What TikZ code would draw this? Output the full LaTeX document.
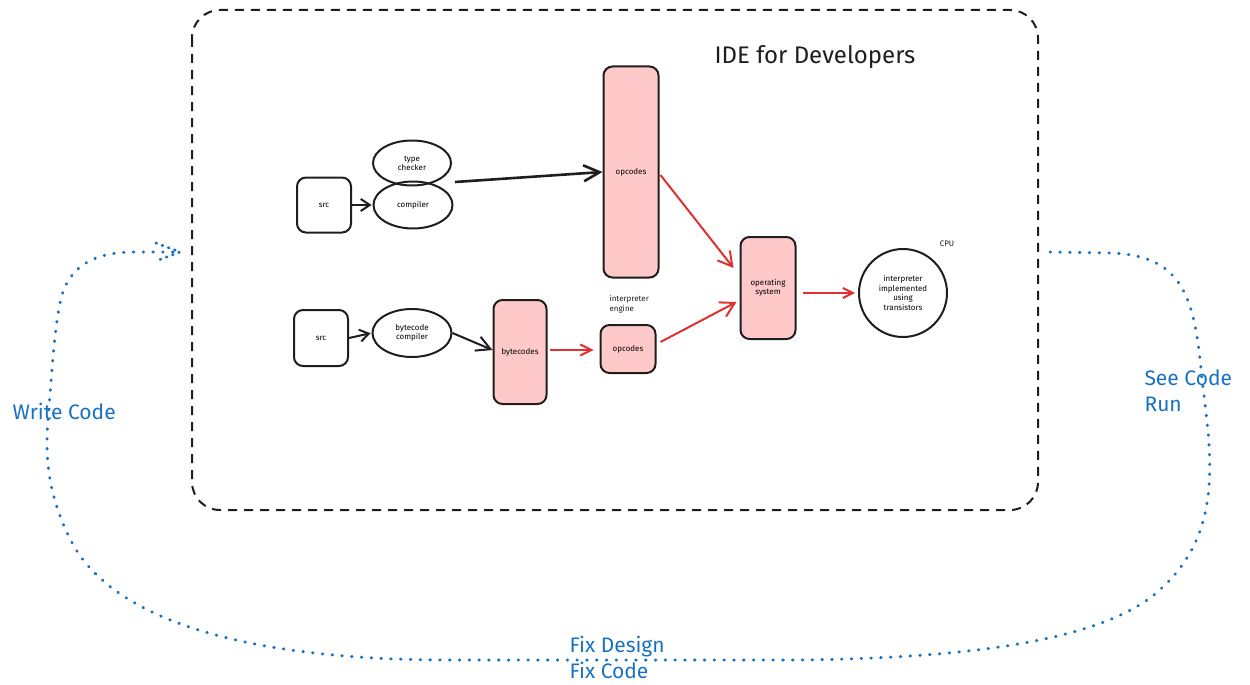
\documentclass[tikz,border=0pt]{standalone}
\usepackage{fontspec}
\setmainfont{Fira Sans}
\usetikzlibrary{arrows.meta,calc,shapes.geometric}
\definecolor{pinkfill}{HTML}{FFC9C9}
\definecolor{redline}{HTML}{E03131}
\definecolor{blueline}{HTML}{1971C2}
\definecolor{inkc}{HTML}{1E1E1E}
\tikzset{
  box/.style={draw=inkc, line width=2pt, rounded corners=9pt, align=center, font=\fontsize{8}{9}\selectfont, inner sep=0pt},
  pinkbox/.style={box, fill=pinkfill},
  oval/.style={draw=inkc, line width=2pt, ellipse, align=center, font=\fontsize{8}{9}\selectfont, inner sep=0pt},
  blackarrow/.style={draw=inkc, line width=2pt, -{Straight Barb[length=9pt,width=12pt]}},
  redarrow/.style={draw=redline, line width=2pt, -{Straight Barb[length=14pt,width=16pt]}},
  smalllabel/.style={font=\fontsize{8}{9.5}\selectfont, align=left, text=inkc},
  bluelabel/.style={font=\fontsize{21}{26}\selectfont, text=blueline, align=left},
  loopline/.style={draw=blueline, line width=3pt, line cap=round, dash pattern=on 0.6pt off 9.2pt},
}
\begin{document}
\begin{tikzpicture}[x=1pt,y=-1pt]
\useasboundingbox (0,0) rectangle (1250,685);
% frame
\draw[inkc, line width=2pt, dash pattern=on 9pt off 7pt, rounded corners=28pt] (192,10) rectangle (1038,510);
\node[font=\fontsize{24}{28}\selectfont, text=inkc] (title) at (815,57) {IDE for Developers};

% upper chain
\node[box, minimum width=54pt, minimum height=55pt] (src1) at (324,205) {src};
\node[oval, minimum width=78pt, minimum height=45pt] (tc) at (412,163) {type\\checker};
\node[oval, minimum width=79pt, minimum height=47pt] (comp) at (413,205) {compiler};
\node[pinkbox, minimum width=55pt, minimum height=211pt] (op1) at (631,172) {opcodes};
\coordinate (tcout) at (455,182);

% lower chain
\node[box, minimum width=54pt, minimum height=56pt] (src2) at (321,338) {src};
\node[oval, minimum width=79pt, minimum height=48pt] (bcc) at (412,333) {bytecode\\compiler};
\node[pinkbox, minimum width=53pt, minimum height=104pt] (bytec) at (520,352) {bytecodes};
\node[pinkbox, minimum width=55pt, minimum height=48pt] (op2) at (628,349) {opcodes};
\node[smalllabel, anchor=north west] (engine) at (606,292) {interpreter\\engine};

% right
\node[pinkbox, minimum width=55pt, minimum height=102pt] (os) at (768,288) {operating\\system};
\node[draw=inkc, line width=2pt, circle, minimum size=88pt, align=center, inner sep=0pt, font=\fontsize{8}{9.5}\selectfont] (cpu) at (903,293) {interpreter\\implemented\\using\\transistors};
\node[smalllabel] (cpul) at (947,244) {CPU};

% connectors
\draw[blackarrow, shorten >=1pt] (src1.east) -- (comp.west);
\draw[draw=inkc, line width=2.6pt, -{Straight Barb[length=16pt,width=16pt]}] (tcout) -- (op1.west);
\draw[blackarrow, shorten >=1pt] (src2.east) -- (bcc.west);
\draw[blackarrow, -{Straight Barb[length=14pt,width=15pt]}] (bcc.east) -- ($(bytec.west)+(0,-2)$);
\draw[redarrow, -{Straight Barb[length=11pt,width=11pt]}] ($(bytec.east)+(2,-2)$) -- ($(op2.west)+(-6,1)$);
\draw[redarrow] ($(op1.east)+(1,3)$) -- ($(os.west)+(-6,-20)$);
\draw[redarrow] ($(op2.east)+(4,-7)$) -- ($(os.west)+(-3,14)$);
\draw[redarrow, -{Straight Barb[length=10pt,width=10pt]}] ($(os.east)+(6,5)$) -- ($(cpu.west)+(-3,0)$);

% feedback loop
\coordinate (loopstart) at (1050,252);
\coordinate (loopend) at (180,252);
\draw[loopline] (loopstart) -- (1110,253) .. controls (1185,255) and (1195,300) .. (1202,380)
  .. controls (1212,460) and (1225,540) .. (1150,598)
  .. controls (1085,645) and (950,658) .. (800,660) -- (450,660)
  .. controls (250,660) and (120,622) .. (75,548)
  .. controls (47,498) and (45,455) .. (48,420)
  .. controls (52,370) and (55,320) .. (62,295)
  .. controls (72,262) and (100,252) .. (135,252) -- (loopend);
\draw[draw=blueline, line width=3pt, line cap=round, dash pattern=on 0.6pt off 6pt] (156,243) -- (loopend) -- (156,261);

\node[bluelabel, anchor=west] (write) at (9,411) {Write Code};
\node[bluelabel, anchor=north west] (see) at (1141,366) {See Code\\Run};
\node[bluelabel, anchor=north west] (fix) at (566,633) {Fix Design\\Fix Code};
\end{tikzpicture}
\end{document}
